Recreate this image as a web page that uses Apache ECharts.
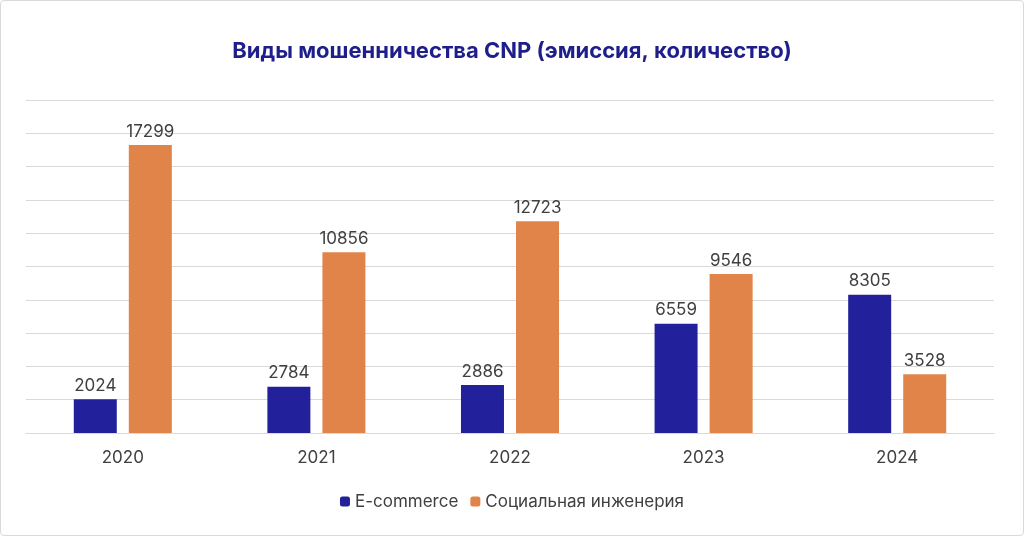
<!DOCTYPE html>
<html>
<head>
<meta charset="utf-8">
<script src="https://cdn.jsdelivr.net/npm/echarts@6/dist/echarts.min.js"></script>
<style>
  html, body { margin: 0; padding: 0; background: #fff; }
  #chart { width: 1024px; height: 536px; box-sizing: border-box; border: 1px solid #d9d9d9; border-radius: 4px; }
</style>
</head>
<body>
<div id="chart"></div>
<script>
var years = ['2020', '2021', '2022', '2023', '2024'];
var ecommerce = [2024, 2784, 2886, 6559, 8305];
var socialEng = [17299, 10856, 12723, 9546, 3528];

var chart = echarts.init(document.getElementById('chart'));

var labelStyle = {
  show: true,
  position: 'top',
  color: '#404040',
  fontSize: 17,
  fontFamily: 'Inter'
};

chart.setOption({
  animation: false,
  title: {
    text: 'Виды мошенничества CNP (эмиссия, количество)',
    left: 'center',
    top: 34,
    textStyle: { color: '#1f1f8c', fontSize: 22, fontWeight: 'bold', fontFamily: 'Inter' }
  },
  legend: {
    bottom: 20,
    itemWidth: 10,
    itemHeight: 10,
    itemGap: 12,
    textStyle: { color: '#404040', fontSize: 17, fontFamily: 'Inter' },
    data: ['E-commerce', 'Социальная инженерия']
  },
  grid: { left: 25, right: 29, top: 99, bottom: 102 },
  xAxis: {
    type: 'category',
    data: years,
    axisTick: { show: false },
    axisLine: { lineStyle: { color: '#d9d9d9' } },
    axisLabel: { color: '#404040', fontSize: 17, margin: 16, fontFamily: 'Inter' }
  },
  yAxis: {
    type: 'value',
    min: 0,
    max: 20000,
    interval: 2000,
    axisLabel: { show: false },
    axisLine: { show: false },
    axisTick: { show: false },
    splitLine: { lineStyle: { color: '#d9d9d9' } }
  },
  series: [
    {
      name: 'E-commerce',
      type: 'bar',
      data: ecommerce,
      barWidth: 43,
      barGap: '28%',
      itemStyle: { color: '#22209a' },
      label: labelStyle
    },
    {
      name: 'Социальная инженерия',
      type: 'bar',
      data: socialEng,
      barWidth: 43,
      itemStyle: { color: '#e0844a' },
      label: labelStyle
    }
  ]
});
</script>
</body>
</html>
